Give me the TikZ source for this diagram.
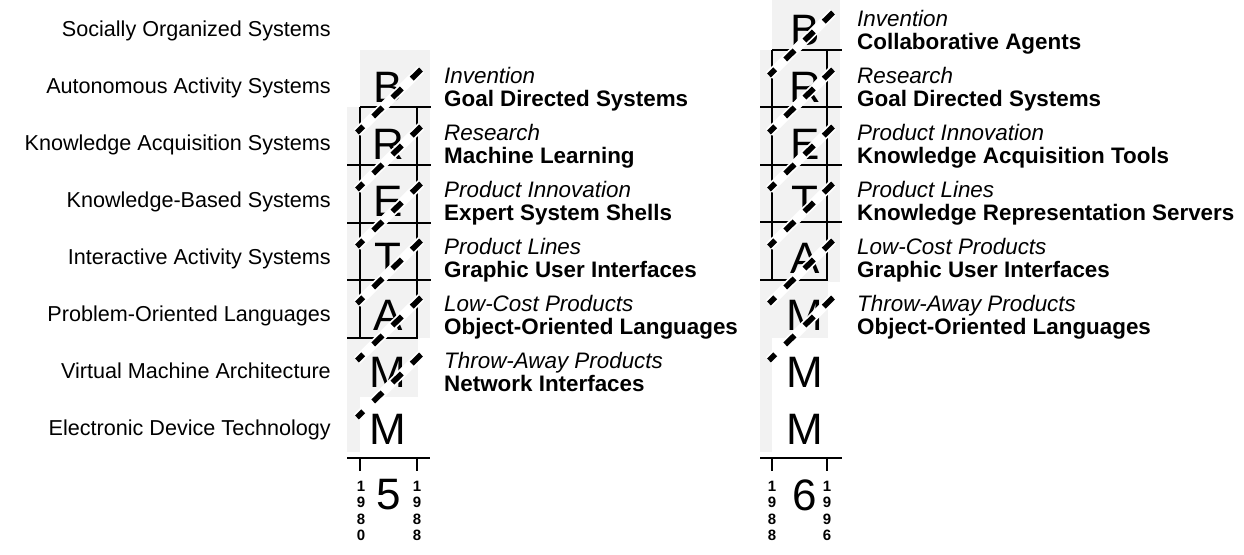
\documentclass[tikz,border=0pt]{standalone}
\usepackage{fontspec}
\setmainfont{Liberation Sans}
\definecolor{bgg}{gray}{0.95}
\begin{document}
\begin{tikzpicture}[x=1pt,y=-1pt,
  lab/.style={anchor=base east,inner sep=0pt,font=\fontsize{21.6}{24}\selectfont},
  itl/.style={anchor=base west,inner sep=0pt,font=\fontsize{22.4}{24}\selectfont\itshape},
  bfl/.style={anchor=base west,inner sep=0pt,font=\fontsize{22.4}{24}\selectfont\bfseries},
  letr/.style={inner sep=0pt,font=\fontsize{44}{44}\selectfont},
  gline/.style={line width=2.6pt},
  yr/.style={inner sep=0pt,align=center,font=\fontsize{15}{16.5}\selectfont\bfseries},
  diagw/.style={white,line width=9pt},
  diagb/.style={black,line width=5.5pt,dash pattern=on 13pt off 14pt}]
\useasboundingbox (0,0) rectangle (1244,554);

% row labels
\foreach \t [count=\i from 0] in {Socially Organized Systems,Autonomous Activity Systems,Knowledge Acquisition Systems,Knowledge-Based Systems,Interactive Activity Systems,Problem-Oriented Languages,Virtual Machine Architecture,Electronic Device Technology}
  \node[lab] (row\i) at (331,{28.5+57*\i+8}) {\t};

% ---------- left panel ----------
\fill[bgg] (360,50) rectangle (430,107);
\fill[bgg] (347,107) rectangle (430,338);
\fill[bgg] (347,338) rectangle (418,452);
\fill[white] (360,397) rectangle (418,452);

\draw[gline] (360,107) -- (431,107);
\foreach \y in {165,223,280} \draw[gline] (347,\y) -- (431,\y);
\draw[gline] (347,338) -- (418,338);
\draw[gline] (360,107) -- (360,338);
\draw[gline] (417,107) -- (417,338);

\foreach \l/\r [count=\i] in {B/85.5,R/142.5,E/199.5,T/256.5,A/313.5,M/370.5,M/427.5}
  \node[letr] (a\i) at (388,\r+2) {\l};

\foreach \r in {85.5,142.5,199.5,256.5,313.5,370.5} {
  \draw[diagw] (421,\r-16) -- (357,\r+47);
  \draw[diagb] (421,\r-16) -- (357,\r+47);
}

\draw[gline] (347,458) -- (430,458);
\draw[gline] (360,458) -- (360,471);
\draw[gline] (417,458) -- (417,471);
\node[yr] (y1) at (361,511) {1\\9\\8\\0};
\node[yr] (y2) at (417,511) {1\\9\\8\\8};
\node[letr] (p5) at (389,495) {5};

\node[itl] (i1) at (444,83.5) {Invention};
\node[bfl] (b1) at (444,106.5) {Goal Directed Systems};
\node[itl] (i2) at (444,140.5) {Research};
\node[bfl] (b2) at (444,163.5) {Machine Learning};
\node[itl] (i3) at (444,197.5) {Product Innovation};
\node[bfl] (b3) at (444,220.5) {Expert System Shells};
\node[itl] (i4) at (444,254.5) {Product Lines};
\node[bfl] (b4) at (444,277.5) {Graphic User Interfaces};
\node[itl] (i5) at (444,311.5) {Low-Cost Products};
\node[bfl] (b5) at (444,334.5) {Object-Oriented Languages};
\node[itl] (i6) at (444,368.5) {Throw-Away Products};
\node[bfl] (b6) at (444,391.5) {Network Interfaces};

% ---------- right panel ----------
\fill[bgg] (772,0) rectangle (840,50);
\fill[bgg] (760,50) rectangle (840,282);
\fill[bgg] (760,282) rectangle (828,452);
\fill[white] (772,338) rectangle (828,452);

\draw[gline] (772,50) -- (842,50);
\foreach \y in {107,165,222} \draw[gline] (760,\y) -- (842,\y);
\draw[gline] (760,280) -- (828,280);
\draw[gline] (772,50) -- (772,280);
\draw[gline] (827,50) -- (827,280);

\foreach \l/\r [count=\i] in {B/28.5,R/85.5,E/142.5,T/199.5,A/256.5,M/313.5,M/370.5,M/427.5}
  \node[letr] (c\i) at (805,\r+2) {\l};

\foreach \r in {28.5,85.5,142.5,199.5,256.5,313.5} {
  \draw[diagw] (833,\r-16) -- (769,\r+47);
  \draw[diagb] (833,\r-16) -- (769,\r+47);
}

\draw[gline] (760,458) -- (842,458);
\draw[gline] (772,458) -- (772,471);
\draw[gline] (827,458) -- (827,471);
\node[yr] (y3) at (772,511) {1\\9\\8\\8};
\node[yr] (y4) at (827,511) {1\\9\\9\\6};
\node[letr] (p6) at (805,495) {6};

\node[itl] (j1) at (857,26.5) {Invention};
\node[bfl] (d1) at (857,49.5) {Collaborative Agents};
\node[itl] (j2) at (857,83.5) {Research};
\node[bfl] (d2) at (857,106.5) {Goal Directed Systems};
\node[itl] (j3) at (857,140.5) {Product Innovation};
\node[bfl] (d3) at (857,163.5) {Knowledge Acquisition Tools};
\node[itl] (j4) at (857,197.5) {Product Lines};
\node[bfl] (d4) at (857,220.5) {Knowledge Representation Servers};
\node[itl] (j5) at (857,254.5) {Low-Cost Products};
\node[bfl] (d5) at (857,277.5) {Graphic User Interfaces};
\node[itl] (j6) at (857,311.5) {Throw-Away Products};
\node[bfl] (d6) at (857,334.5) {Object-Oriented Languages};
\end{tikzpicture}
\end{document}
